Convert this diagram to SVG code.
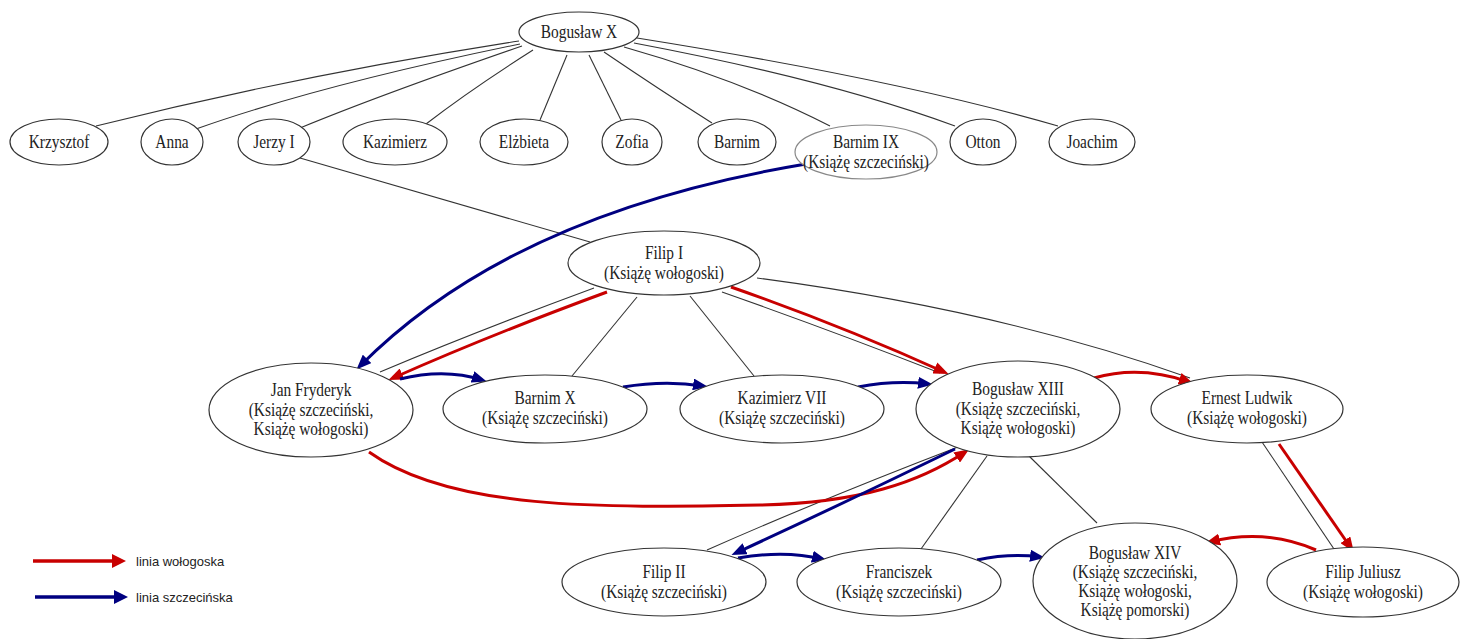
<svg xmlns="http://www.w3.org/2000/svg" width="1469" height="639" viewBox="0 0 1469 639">
<style>
.n ellipse{fill:#fff;stroke:#333;stroke-width:1.2}
.n text{font-family:"Liberation Serif","DejaVu Serif",serif;font-size:19px;fill:#222;text-anchor:middle}
.e path{fill:none;stroke:#333;stroke-width:1.1}
.e path.r{stroke:#c80000;stroke-width:3;marker-end:url(#ar)}
.e path.b{stroke:#000080;stroke-width:3;marker-end:url(#ab)}
.lg{font-family:"Liberation Sans","Arial",sans-serif;font-size:13px;fill:#222}
</style>
<defs>
<marker id="ar" markerUnits="userSpaceOnUse" markerWidth="16" markerHeight="12" refX="10" refY="6" orient="auto"><path d="M0,0 L15,6 L0,12 z" fill="#c80000"/></marker>
<marker id="ab" markerUnits="userSpaceOnUse" markerWidth="16" markerHeight="12" refX="10" refY="6" orient="auto"><path d="M0,0 L15,6 L0,12 z" fill="#000080"/></marker>
</defs>
<rect width="1469" height="639" fill="#fff"/>
<g id="connectors" class="e">
<path d="M519,41 Q300,75 96,126"/>
<path d="M520,44 Q320,85 196,129"/>
<path d="M522,46 Q380,95 300,128"/>
<path d="M533,50 Q470,90 426,124"/>
<path d="M567,55 L540,120"/>
<path d="M589,55 L621,120"/>
<path d="M604,52 Q660,90 712,123"/>
<path d="M624,47 Q740,80 830,126"/>
<path d="M634,43 Q830,80 955,126"/>
<path d="M637,38 Q900,80 1058,126"/>
<path d="M300,158 L590,242"/>
<path d="M594,288 Q480,330 380,372"/>
<path d="M637,297 L572,376"/>
<path d="M690,296 L754,376"/>
<path d="M722,292 Q830,330 940,373"/>
<path d="M757,278 Q1000,310 1190,378"/>
<path d="M958,447 Q820,500 707,550"/>
<path d="M987,456 L921,549"/>
<path d="M1029,456 L1097,523"/>
<path d="M1262,442 L1334,549"/>
<path class="b" d="M806,164 C650,190 480,245 360,366"/>
<path class="r" d="M607,292 Q490,335 393,378"/>
<path class="r" d="M731,287 Q840,325 944,372"/>
<path class="b" d="M400,379 Q445,368 482,380"/>
<path class="b" d="M623,387 Q665,380 703,386"/>
<path class="b" d="M858,387 Q895,380 928,384"/>
<path class="r" d="M1094,378 Q1140,365 1189,382"/>
<path class="r" d="M369,452 C450,510 600,508 760,505 C860,503 920,482 965,452"/>
<path class="b" d="M955,449 Q840,505 736,553"/>
<path class="r" d="M1279,444 L1351,548"/>
<path class="b" d="M738,558 Q785,550 822,559"/>
<path class="b" d="M977,560 Q1010,553 1040,557"/>
<path class="r" d="M1316,550 Q1265,528 1210,542"/>
</g>
<g id="boguslaw-x" class="n"><ellipse cx="579" cy="32" rx="60" ry="20"/><text transform="matrix(.81 0 0 1 579 0)" y="38">Bogusław X</text></g>
<g id="krzysztof" class="n"><ellipse cx="59" cy="142" rx="49" ry="23"/><text transform="matrix(.81 0 0 1 59 0)" y="148">Krzysztof</text></g>
<g id="anna" class="n"><ellipse cx="172" cy="142" rx="31" ry="23"/><text transform="matrix(.81 0 0 1 172 0)" y="148">Anna</text></g>
<g id="jerzy-i" class="n"><ellipse cx="274" cy="142" rx="36" ry="23"/><text transform="matrix(.81 0 0 1 274 0)" y="148">Jerzy I</text></g>
<g id="kazimierz" class="n"><ellipse cx="395" cy="142" rx="52" ry="23"/><text transform="matrix(.81 0 0 1 395 0)" y="148">Kazimierz</text></g>
<g id="elzbieta" class="n"><ellipse cx="524" cy="142" rx="44" ry="23"/><text transform="matrix(.81 0 0 1 524 0)" y="148">Elżbieta</text></g>
<g id="zofia" class="n"><ellipse cx="632" cy="142" rx="30" ry="23"/><text transform="matrix(.81 0 0 1 632 0)" y="148">Zofia</text></g>
<g id="barnim" class="n"><ellipse cx="737" cy="142" rx="39" ry="23"/><text transform="matrix(.81 0 0 1 737 0)" y="148">Barnim</text></g>
<g id="barnim-ix" class="n"><ellipse cx="866" cy="152" rx="71" ry="27" style="stroke:#888"/><text transform="matrix(.81 0 0 1 866 0)" y="148">Barnim IX</text><text transform="matrix(.81 0 0 1 866 0)" y="168">(Książę szczeciński)</text></g>
<g id="otton" class="n"><ellipse cx="983" cy="142" rx="33" ry="23"/><text transform="matrix(.81 0 0 1 983 0)" y="148">Otton</text></g>
<g id="joachim" class="n"><ellipse cx="1092" cy="142" rx="43" ry="23"/><text transform="matrix(.81 0 0 1 1092 0)" y="148">Joachim</text></g>
<g id="filip-i" class="n"><ellipse cx="664" cy="263" rx="96" ry="32"/><text transform="matrix(.81 0 0 1 664 0)" y="259">Filip I</text><text transform="matrix(.81 0 0 1 664 0)" y="279">(Książę wołogoski)</text></g>
<g id="jan-fryderyk" class="n"><ellipse cx="311" cy="410" rx="102" ry="47"/><text transform="matrix(.81 0 0 1 311 0)" y="396">Jan Fryderyk</text><text transform="matrix(.81 0 0 1 311 0)" y="416">(Książę szczeciński,</text><text transform="matrix(.81 0 0 1 311 0)" y="435">Książę wołogoski)</text></g>
<g id="barnim-x" class="n"><ellipse cx="545" cy="409" rx="102" ry="34"/><text transform="matrix(.81 0 0 1 545 0)" y="404">Barnim X</text><text transform="matrix(.81 0 0 1 545 0)" y="424">(Książę szczeciński)</text></g>
<g id="kazimierz-vii" class="n"><ellipse cx="782" cy="409" rx="102" ry="34"/><text transform="matrix(.81 0 0 1 782 0)" y="404">Kazimierz VII</text><text transform="matrix(.81 0 0 1 782 0)" y="424">(Książę szczeciński)</text></g>
<g id="boguslaw-xiii" class="n"><ellipse cx="1018" cy="409" rx="102" ry="48"/><text transform="matrix(.81 0 0 1 1018 0)" y="395">Bogusław XIII</text><text transform="matrix(.81 0 0 1 1018 0)" y="415">(Książę szczeciński,</text><text transform="matrix(.81 0 0 1 1018 0)" y="434">Książę wołogoski)</text></g>
<g id="ernest-ludwik" class="n"><ellipse cx="1247" cy="409" rx="96" ry="34"/><text transform="matrix(.81 0 0 1 1247 0)" y="404">Ernest Ludwik</text><text transform="matrix(.81 0 0 1 1247 0)" y="424">(Książę wołogoski)</text></g>
<g id="filip-ii" class="n"><ellipse cx="664" cy="582" rx="102" ry="34"/><text transform="matrix(.81 0 0 1 664 0)" y="578">Filip II</text><text transform="matrix(.81 0 0 1 664 0)" y="598">(Książę szczeciński)</text></g>
<g id="franciszek" class="n"><ellipse cx="899" cy="582" rx="102" ry="34"/><text transform="matrix(.81 0 0 1 899 0)" y="578">Franciszek</text><text transform="matrix(.81 0 0 1 899 0)" y="598">(Książę szczeciński)</text></g>
<g id="boguslaw-xiv" class="n"><ellipse cx="1135" cy="581" rx="102" ry="58"/><text transform="matrix(.81 0 0 1 1135 0)" y="559">Bogusław XIV</text><text transform="matrix(.81 0 0 1 1135 0)" y="578">(Książę szczeciński,</text><text transform="matrix(.81 0 0 1 1135 0)" y="597">Książę wołogoski,</text><text transform="matrix(.81 0 0 1 1135 0)" y="616">Książę pomorski)</text></g>
<g id="filip-juliusz" class="n"><ellipse cx="1363" cy="582" rx="96" ry="35"/><text transform="matrix(.81 0 0 1 1363 0)" y="578">Filip Juliusz</text><text transform="matrix(.81 0 0 1 1363 0)" y="598">(Książę wołogoski)</text></g>
<g id="legend">
<line x1="33" y1="561" x2="116" y2="561" stroke="#c80000" stroke-width="3.5"/>
<path d="M112,554 L126,561 L112,568 z" fill="#c80000"/>
<text class="lg" x="136" y="566">linia wołogoska</text>
<line x1="35" y1="597" x2="118" y2="597" stroke="#000080" stroke-width="3.5"/>
<path d="M114,590 L128,597 L114,604 z" fill="#000080"/>
<text class="lg" x="136" y="602">linia szczecińska</text>
</g>
</svg>
